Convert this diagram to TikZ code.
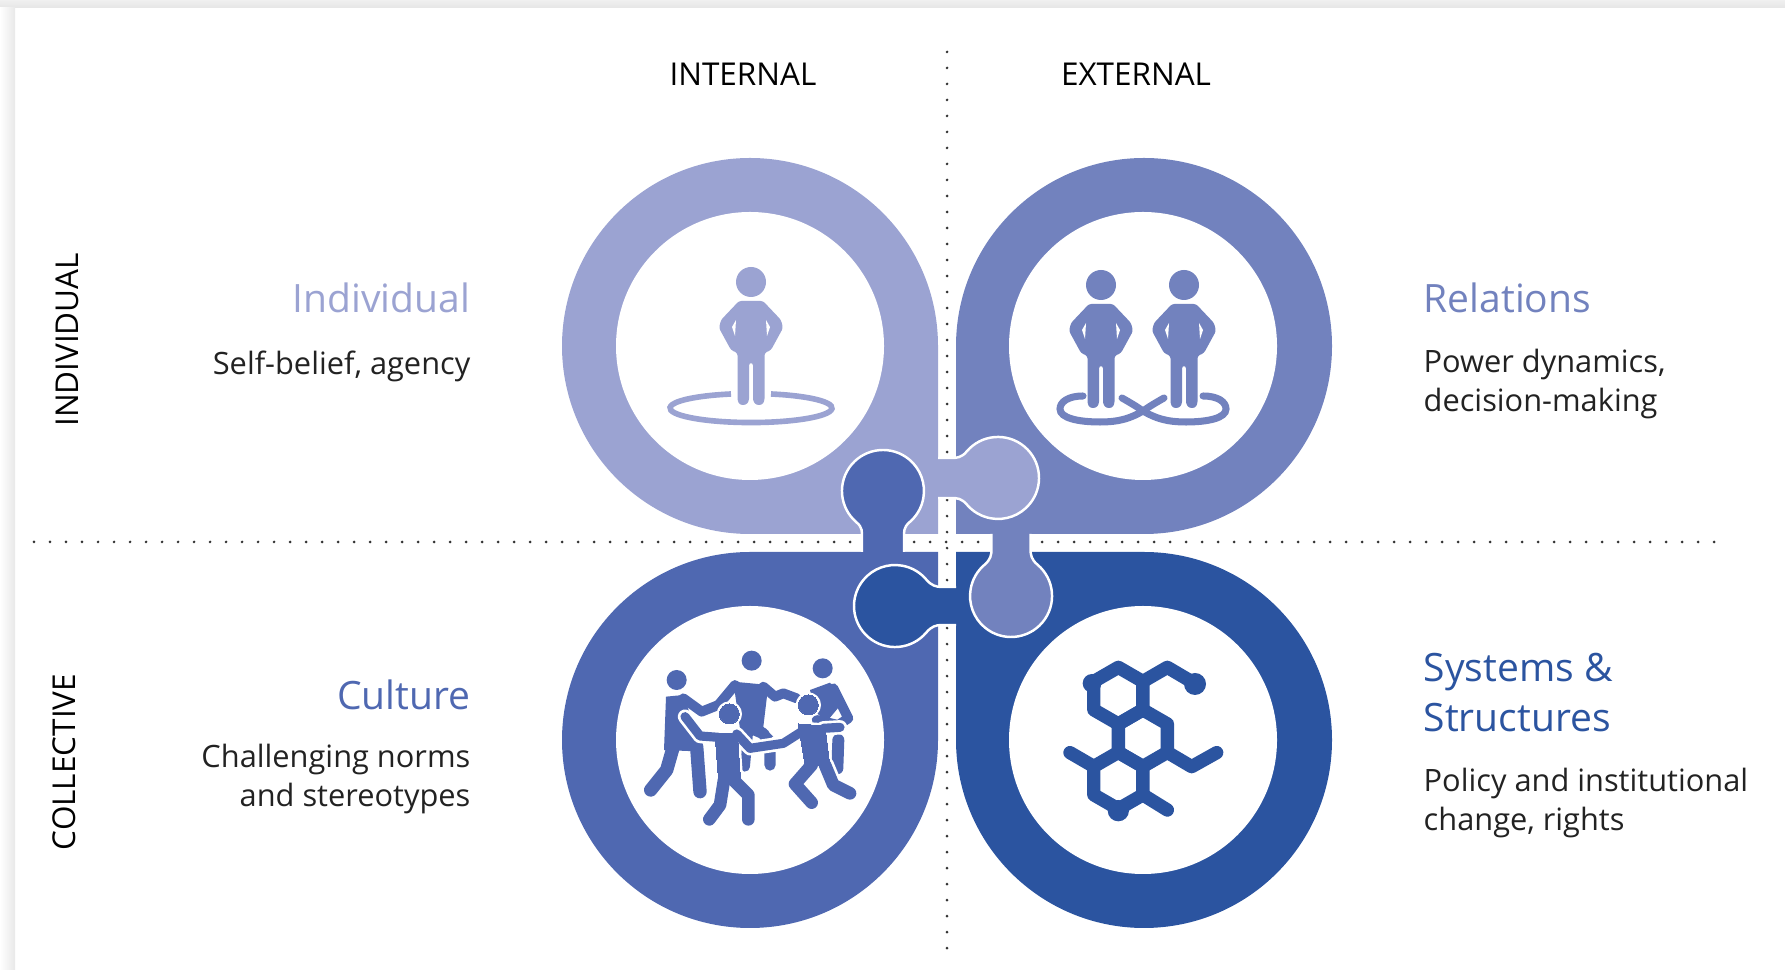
\documentclass[tikz,border=0pt]{standalone}
\usepackage{fontspec}
\setmainfont{Open Sans}
\definecolor{indivblue}{HTML}{9BA3D2}
\definecolor{relblue}{HTML}{7282BE}
\definecolor{cultblue}{HTML}{4F68B1}
\definecolor{sysblue}{HTML}{2B54A0}
\definecolor{inktext}{HTML}{222222}
\tikzset{
  axislabel/.style={text=black,font=\fontsize{8.95}{10}\selectfont,inner sep=0pt},
  headline/.style={font=\fontsize{11.1}{14.2}\selectfont,inner sep=0pt},
  bodytext/.style={text=inktext,font=\fontsize{8.75}{11.2}\selectfont,inner sep=0pt},
  dotline/.style={line width=0.85pt,line cap=round,dash pattern=on 0pt off 4.55pt,black!80},
  person/.pic={
    \fill[pic actions] (0,0) circle (15);
    \fill[pic actions,rounded corners=0.7pt] (-12,-19) -- (12,-19) -- (30,-38) -- (32,-46) -- (20,-68) -- (13.5,-71) -- (13.5,-119) -- (11,-123) -- (5,-123) -- (2,-119) -- (2,-81) -- (-2,-81) -- (-2,-119) -- (-5,-123) -- (-11,-123) -- (-13.5,-119) -- (-13.5,-71) -- (-20,-68) -- (-32,-46) -- (-30,-38) -- cycle;
    \fill[white] (15,-38) -- (19,-45) -- (16,-54) -- cycle;
    \fill[white] (-15,-38) -- (-19,-45) -- (-16,-54) -- cycle;
  },
}
\begin{document}
\begin{tikzpicture}[x=0.01cm,y=0.01cm]
\useasboundingbox (0,0) rectangle (1785,970);
% page edge
\shade[top color=black!6,bottom color=black!10] (0,962) rectangle (1785,970);
\shade[left color=white,right color=black!9] (0,0) rectangle (15,962);

\draw[dotline] (34,428) -- (1716,428);
\draw[dotline] (947,918) -- (947,18);

% the four drops
\fill[indivblue] (938,436) -- (938,624) arc[start angle=0,end angle=270,radius=188] -- cycle;
\fill[relblue] (956,436) -- (956,624) arc[start angle=180,end angle=-90,radius=188] -- cycle;
\fill[cultblue] (938,418) -- (938,230) arc[start angle=0,end angle=-270,radius=188] -- cycle;
\fill[sysblue] (956,418) -- (956,230) arc[start angle=180,end angle=450,radius=188] -- cycle;
\foreach \cx/\cy in {750/624,1143/624,750/230,1143/230}
  \fill[white] (\cx,\cy) circle (134);

% the knobs
\foreach \bx/\by/\ang/\col/\reach/\half in {883/418/90/cultblue/61/21,938/492/0/indivblue/60/20,1011/436/-90/relblue/62/19.5,956/364/180/sysblue/61/19}{
  \begin{scope}[shift={(\bx,\by)},rotate=\ang]
    \filldraw[fill=\col,draw=white,line width=0.7pt] (0,\half) -- (\reach-47,\half) .. controls (\reach-41,\half) and (\reach-36.5,20.4) .. (\reach-31.4,26.4) arc[start angle=140,end angle=-140,radius=41] .. controls (\reach-36.5,-20.4) and (\reach-41,-\half) .. (\reach-47,-\half) -- (0,-\half);
  \end{scope}
}

% one person on a ring
\pic[fill=indivblue] at (751,688) {person};
\draw[indivblue,line width=1.6pt] (771,576) arc[start angle=75.7,end angle=-255.7,x radius=81,y radius=14.5];

% two people on a loop
\pic[fill=relblue] at (1101,685) {person};
\pic[fill=relblue] at (1184,685) {person};
\draw[relblue,line width=2pt,line cap=round] (1083,574) .. controls (1068,574) and (1060,568) .. (1060,561) .. controls (1060,552) and (1078,548) .. (1100,548) .. controls (1120,548) and (1131,552) .. (1143,559) .. controls (1150,564) and (1157,568) .. (1164,572);
\draw[relblue,line width=2pt,line cap=round] (1203,574) .. controls (1218,574) and (1226,568) .. (1226,561) .. controls (1226,552) and (1208,548) .. (1186,548) .. controls (1166,548) and (1155,552) .. (1143,559) .. controls (1136,564) and (1129,568) .. (1122,572);

% dancers
\begin{scope}[shift={(620,340)},xscale=1/3,yscale=-1/3,cultblue,line cap=round,line join=round]
  % back row
  \fill (170,150) circle (30);
  \fill (395,92) circle (30);
  \fill (608,115) circle (30);
  \fill (138,200) -- (190,195) -- (250,365) -- (132,360) -- cycle;
  \fill (340,155) -- (445,165) -- (430,290) -- (460,320) -- (420,325) -- (385,310) -- (362,310) -- cycle;
  \fill (570,180) -- (630,158) -- (670,215) -- (620,275) -- (585,245) -- cycle;
  \draw[line width=2.8pt] (190,205) -- (245,245) -- (295,225) -- (345,165);
  \draw[line width=2.8pt] (430,170) -- (465,200) -- (490,190) -- (530,205);
  \draw[line width=2.8pt] (640,175) -- (685,265) -- (655,285) -- (590,270);
  \draw[line width=3.8pt] (160,350) -- (140,420) -- (92,480);
  \draw[line width=3.8pt] (230,350) -- (240,485);
  \draw[line width=2.8pt] (385,300) -- (375,410);
  \draw[line width=3.2pt] (430,310) -- (450,350) -- (450,405);
  \draw[line width=3.4pt] (655,330) -- (652,415);
  % front row
  \foreach \halo/\extra in {white/1.5,cultblue/0}{
    \filldraw[draw=\halo,fill=\halo,line width=\extra pt] (328,252) circle (30);
    \filldraw[draw=\halo,fill=\halo,line width=\extra pt] (565,225) circle (30);
    \filldraw[draw=\halo,fill=\halo,line width=\extra pt] (285,310) -- (352,310) -- (362,455) -- (296,455) -- cycle;
    \filldraw[draw=\halo,fill=\halo,line width=\extra pt] (535,282) -- (615,288) -- (630,410) -- (555,405) -- cycle;
    \draw[\halo,line width=2.6pt+\extra pt] (295,322) -- (240,318) -- (195,260);
    \draw[\halo,line width=2.6pt+\extra pt] (350,312) -- (390,355) -- (490,340) -- (545,305);
    \draw[\halo,line width=2.6pt+\extra pt] (610,295) -- (660,292);
    \draw[\halo,line width=3.6pt+\extra pt] (312,450) -- (300,525) -- (268,568);
    \draw[\halo,line width=3.6pt+\extra pt] (340,450) -- (385,495) -- (385,568);
    \draw[\halo,line width=3.6pt+\extra pt] (575,405) -- (525,462) -- (575,518);
    \draw[\halo,line width=3.6pt+\extra pt] (615,405) -- (640,465) -- (690,490);
  }
\end{scope}

% molecule
\begin{scope}[shift={(1030,340)},xscale=1/3,yscale=-1/3,sysblue,line width=3.8pt,line cap=round,line join=round]
  \foreach \cx/\cy in {265/197,338.6/324.5,265/452}
    \draw (\cx,\cy) +(30:85) -- +(90:85) -- +(150:85) -- +(210:85) -- +(270:85) -- +(330:85) -- cycle;
  \draw (338.6,154.5) -- (412,112) -- (490,158);
  \draw (191.4,409.5) -- (120,368);
  \draw (412,367) -- (485,410) -- (560,368);
  \draw (338.6,494.5) -- (412,540);
  \fill (495,162) circle (33);
  \fill (186,160) circle (28);
  \fill (265,542) circle (32);
\end{scope}

\node[axislabel] (internal) at (743,896) {INTERNAL};
\node[axislabel] (external) at (1136,896) {EXTERNAL};
\node[axislabel,rotate=90] (individual) at (67,630) {INDIVIDUAL};
\node[axislabel,rotate=90] (collective) at (64,208) {COLLECTIVE};

\node[headline,text=indivblue,anchor=east] (indivtitle) at (471,672) {Individual};
\node[bodytext,anchor=east] (indivtext) at (471,604) {Self-belief, agency};
\node[headline,text=cultblue,anchor=east] (culttitle) at (471,275) {Culture};
\node[bodytext,anchor=east,align=right] (culttext) at (471,191) {Challenging norms\\and stereotypes};
\node[headline,text=relblue,anchor=west] (reltitle) at (1423,672) {Relations};
\node[bodytext,anchor=west,align=left] (reltext) at (1423,586) {Power dynamics,\\decision-making};
\node[headline,text=sysblue,anchor=west,align=left] (systitle) at (1423,277) {Systems \&\\Structures};
\node[bodytext,anchor=west,align=left] (systext) at (1423,167) {Policy and institutional\\change, rights};
\end{tikzpicture}
\end{document}
